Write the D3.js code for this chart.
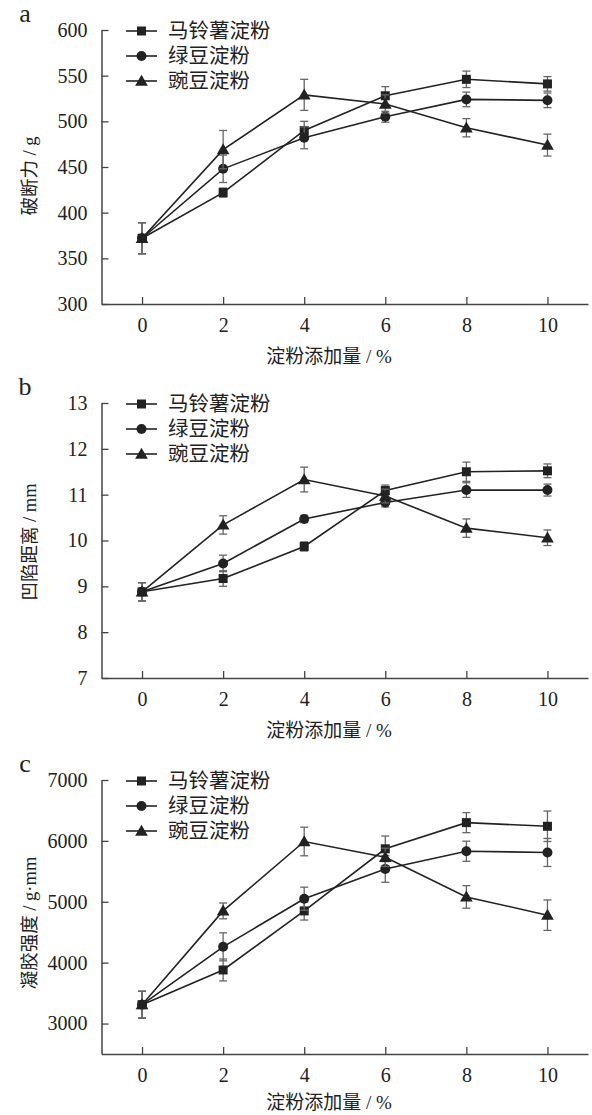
<!DOCTYPE html>
<html>
<head>
<meta charset="utf-8">
<script src="https://cdn.jsdelivr.net/npm/d3@7"></script>
<style>
body { margin: 0; background: #fff; }
svg text { font-family: "Liberation Serif", "Times New Roman", "DejaVu Serif", "Noto Sans CJK SC", serif; fill: #222; }
</style>
</head>
<body>
<svg id="chart" width="592" height="1115"></svg>
<script>
const xValues = [0, 2, 4, 6, 8, 10];
const seriesNames = ["马铃薯淀粉", "绿豆淀粉", "豌豆淀粉"];
const markerTypes = ["square", "circle", "triangle"];

// Panel a: 破断力 / g
const aPotato = [372, 422, 490, 528, 546, 541];
const aPotatoErr = [17, 5, 10, 10, 9, 8];
const aMung = [372, 448, 482, 505, 524, 523];
const aMungErr = [17, 15, 12, 6, 8, 8];
const aPea = [372, 469, 529, 519, 493, 474];
const aPeaErr = [17, 21, 17, 10, 10, 12];
const aTicks = [300, 350, 400, 450, 500, 550, 600];

// Panel b: 凹陷距离 / mm
const bPotato = [8.88, 9.17, 9.87, 11.09, 11.5, 11.52];
const bPotatoErr = [0.2, 0.17, 0.1, 0.12, 0.21, 0.15];
const bMung = [8.88, 9.5, 10.47, 10.83, 11.1, 11.1];
const bMungErr = [0.2, 0.18, 0.08, 0.1, 0.16, 0.13];
const bPea = [8.88, 10.34, 11.33, 10.97, 10.27, 10.06];
const bPeaErr = [0.2, 0.2, 0.27, 0.15, 0.2, 0.17];
const bTicks = [7, 8, 9, 10, 11, 12, 13];

// Panel c: 凝胶强度 / g·mm
const cPotato = [3310, 3880, 4850, 5870, 6300, 6240];
const cPotatoErr = [220, 180, 150, 210, 165, 250];
const cMung = [3310, 4260, 5050, 5540, 5830, 5810];
const cMungErr = [220, 230, 190, 220, 165, 230];
const cPea = [3310, 4850, 5990, 5730, 5080, 4780];
const cPeaErr = [220, 130, 235, 150, 185, 250];
const cTicks = [3000, 4000, 5000, 6000, 7000];

const xTitle = "淀粉添加量 / %";

const svg = d3.select("#chart");
const lineColor = "#222";
const errColor = "#666";
const FONT = '"Liberation Serif", "Times New Roman", "DejaVu Serif", "Noto Sans CJK SC", serif';

function marker(g, type, x, y) {
  if (type === "square") {
    g.append("rect").attr("x", x - 4.5).attr("y", y - 4.5).attr("width", 9).attr("height", 9).attr("fill", lineColor);
  } else if (type === "circle") {
    g.append("circle").attr("cx", x).attr("cy", y).attr("r", 5).attr("fill", lineColor);
  } else {
    g.append("path").attr("d", d3.symbol().type(d3.symbolTriangle).size(70)()).attr("transform", `translate(${x},${y + 1})`).attr("fill", lineColor);
  }
}

function drawPanel(p) {
  const g = svg.append("g");
  const x = d3.scaleLinear().domain([-1, 11]).range([101.5, 588]);
  const y = d3.scaleLinear().domain(p.yDomain).range([p.bottom, p.top]);

  const xAxis = g.append("g").attr("transform", `translate(0,${p.bottom})`)
    .call(d3.axisBottom(x).tickValues(xValues).tickFormat(d3.format("d")).tickSizeInner(-7).tickSizeOuter(0).tickPadding(17));
  const yAxis = g.append("g").attr("transform", `translate(${x(-1)},0)`)
    .call(d3.axisLeft(y).tickValues(p.ticks).tickFormat(d3.format("d")).tickSizeInner(-7).tickSizeOuter(0).tickPadding(14));
  [xAxis, yAxis].forEach(ax => {
    ax.attr("font-family", FONT);
    ax.select(".domain").attr("stroke", "#444").attr("stroke-width", 1.5);
    ax.selectAll(".tick line").attr("stroke", "#444").attr("stroke-width", 1.3);
    ax.selectAll(".tick text").attr("font-size", 20).attr("fill", "#222");
  });
  xAxis.selectAll(".tick text").attr("dy", "0.55em");

  g.append("text").attr("x", 25).attr("y", p.top - 8).attr("font-size", 26).attr("text-anchor", "middle").text(p.label);
  g.append("text").attr("x", 329).attr("y", p.bottom + p.xTitleOffset).attr("font-size", 19).attr("text-anchor", "middle")
    .attr("xml:space", "preserve").text(xTitle);
  g.append("text").attr("transform", `translate(36,${p.yTitleCenter}) rotate(-90)`)
    .attr("font-size", 18.5).attr("text-anchor", "middle").text(p.yTitle);

  p.series.forEach((s, i) => {
    const sg = g.append("g");
    xValues.forEach((xv, j) => {
      const cx = x(xv), y1 = y(s.v[j] + s.e[j]), y2 = y(s.v[j] - s.e[j]);
      sg.append("line").attr("x1", cx).attr("x2", cx).attr("y1", y1).attr("y2", y2).attr("stroke", errColor).attr("stroke-width", 1.3);
      [y1, y2].forEach(yy => sg.append("line").attr("x1", cx - 4).attr("x2", cx + 4).attr("y1", yy).attr("y2", yy).attr("stroke", errColor).attr("stroke-width", 1.3));
    });
    const line = d3.line().x((d, j) => x(xValues[j])).y(d => y(d));
    sg.append("path").datum(s.v).attr("d", line).attr("fill", "none").attr("stroke", lineColor).attr("stroke-width", 1.6);
    s.v.forEach((v, j) => marker(sg, markerTypes[i], x(xValues[j]), y(v)));
  });

  seriesNames.forEach((name, i) => {
    const ly = p.top + 1 + i * 25;
    const lg = g.append("g");
    lg.append("line").attr("x1", 126).attr("x2", 157).attr("y1", ly).attr("y2", ly).attr("stroke", lineColor).attr("stroke-width", 1.6);
    marker(lg, markerTypes[i], 141.5, ly);
    lg.append("text").attr("x", 168).attr("y", ly).attr("dy", "0.36em").attr("font-size", 20.5).text(name);
  });
}

drawPanel({ label: "a", top: 30, bottom: 304, yDomain: [300, 600], ticks: aTicks, yTitle: "破断力 / g", yTitleCenter: 176, xTitleOffset: 59,
  series: [{ v: aPotato, e: aPotatoErr }, { v: aMung, e: aMungErr }, { v: aPea, e: aPeaErr }] });
drawPanel({ label: "b", top: 403, bottom: 678, yDomain: [7, 13], ticks: bTicks, yTitle: "凹陷距离 / mm", yTitleCenter: 542, xTitleOffset: 59,
  series: [{ v: bPotato, e: bPotatoErr }, { v: bMung, e: bMungErr }, { v: bPea, e: bPeaErr }] });
drawPanel({ label: "c", top: 780, bottom: 1054, yDomain: [2500, 7000], ticks: cTicks, yTitle: "凝胶强度 / g·mm", yTitleCenter: 923, xTitleOffset: 55,
  series: [{ v: cPotato, e: cPotatoErr }, { v: cMung, e: cMungErr }, { v: cPea, e: cPeaErr }] });
</script>
</body>
</html>
